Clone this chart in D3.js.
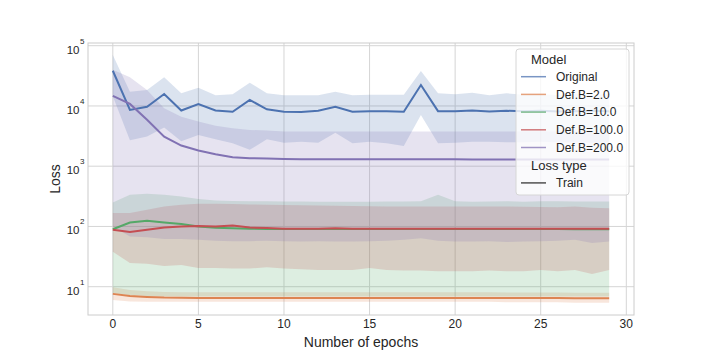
<!DOCTYPE html>
<html>
<head>
<meta charset="utf-8">
<script src="https://cdn.jsdelivr.net/npm/d3@7"></script>
<style>
  body { margin: 0; background: #fff; }
  svg { display: block; font-family: "Liberation Sans", Arial, sans-serif; }
</style>
</head>
<body>
<div id="chart"></div>
<script>
'use strict';

// data
var epochs = [0,1,2,3,4,5,6,7,8,9,10,11,12,13,14,15,16,17,18,19,20,21,22,23,24,25,26,27,28,29];
var xTicks = [0,5,10,15,20,25,30];
var yTicks = [1e1,1e2,1e3,1e4,1e5];
var yTickExp = ["1","2","3","4","5"];
var models = ["Original","Def.B=2.0","Def.B=10.0","Def.B=100.0","Def.B=200.0"];
var colors = ["#4c72b0","#dd8452","#55a868","#c44e52","#8172b3"];

var origMean = [38400,8600,9700,15800,8400,10700,8400,8000,12600,8800,8000,7900,8300,9700,8000,8200,8200,8000,22300,8200,8200,8400,8100,8300,8200,8300,8100,8200,8300,8200];
var origHi = [70000,17200,18400,30000,16200,20000,15100,15600,24300,16200,15100,15100,15100,17200,15100,15400,15400,15400,38000,16200,15600,16600,15100,16200,15400,15600,15200,15800,15400,15600];
var origLo = [14500,2700,3100,4400,2600,3300,2800,2400,1870,2800,2460,2550,2460,3600,2400,2550,2400,2170,7100,2400,2460,2550,2550,2500,2500,2550,2500,2500,2450,2500];

var b2Mean = [7.6,7.0,6.75,6.6,6.55,6.5,6.5,6.5,6.5,6.5,6.5,6.5,6.5,6.5,6.5,6.5,6.5,6.5,6.5,6.5,6.5,6.5,6.5,6.5,6.5,6.5,6.5,6.45,6.45,6.45];
var b2Hi = [9.8,8.8,8.4,8.2,8.1,8.1,8.1,8.1,8.1,8.1,8.1,8.1,8.1,8.1,8.1,8.1,8.1,8.1,8.1,8.1,8.1,8.1,8.1,8.0,8.0,8.0,8.0,7.9,7.9,7.9];
var b2Lo = [6.0,5.7,5.6,5.6,5.6,5.6,5.6,5.6,5.6,5.6,5.6,5.6,5.6,5.6,5.6,5.6,5.6,5.6,5.6,5.6,5.6,5.6,5.6,5.5,5.5,5.5,5.5,5.4,5.4,5.4];

var b10Mean = [90,116,124,116,110,100,95,93,92,91,91,91,91,91,91,91,91,91,91,91,91,91,91,91,91,91,91,90,90,90];
var b10Hi = [250,335,350,335,315,285,270,265,262,262,260,260,258,258,258,258,260,260,262,335,262,258,260,262,258,262,262,260,260,260];
var b10Lo = [7.8,7.2,7.0,6.9,6.9,6.9,6.9,6.9,6.9,6.9,6.9,6.9,6.9,6.9,6.9,6.9,6.9,6.9,6.9,6.9,6.9,6.9,6.9,6.9,6.9,6.9,6.9,6.9,6.9,6.9];

var b100Mean = [88,81,88,96,100,102,100,104,96,94,92,92,92,93,92,92,92,92,92,92,92,92,92,92,92,92,92,92,92,92];
var b100Hi = [167,167,189,214,229,238,238,235,232,230,228,225,222,220,218,216,215,214,214,214,214,214,214,214,212,210,208,214,205,200];
var b100Lo = [38,24.7,24,22,23,20.5,20.5,20,20,21,20,19.5,19,19,19,20.4,19,18.5,18.5,18,18,18,18.5,18,18,19,18,19,16.3,19];

var b200Mean = [14700,10800,5900,3100,2200,1820,1580,1410,1360,1340,1320,1310,1310,1300,1300,1300,1300,1300,1300,1300,1300,1290,1290,1290,1290,1290,1290,1290,1290,1290];
var b200Hi = [40000,30000,18400,9200,6600,5500,4700,4260,4000,3900,3750,3750,3750,3750,3750,3750,3750,3750,3750,3750,3750,3750,3750,3750,3750,3750,3750,3750,3750,3750];
var b200Lo = [100,68,66,62,62,60,58,57,57,58,57,56,57,56,56,57,58,60,64,58,56,56,57,55,56,57,58,60,53,56];

var means = [origMean,b2Mean,b10Mean,b100Mean,b200Mean];
var his = [origHi,b2Hi,b10Hi,b100Hi,b200Hi];
var los = [origLo,b2Lo,b10Lo,b100Lo,b200Lo];

var W = 706, H = 354;
var pLeft = 88, pRight = 634, pTop = 43, pBottom = 315;

var svg = d3.select('#chart').append('svg')
    .attr('width', W)
    .attr('height', H);

svg.append('rect').attr('width', W).attr('height', H).attr('fill', '#fff');

var x = d3.scaleLinear().domain([-1.45, 30.45]).range([pLeft, pRight]);
var y = d3.scaleLog().domain([3.39, 110900]).range([pBottom, pTop]);

// grid
var grid = svg.append('g');
grid.selectAll('.vg').data(xTicks).enter().append('line')
    .attr('x1', function(d){ return x(d); }).attr('x2', function(d){ return x(d); })
    .attr('y1', pTop).attr('y2', pBottom)
    .attr('stroke', '#d5d5d5').attr('stroke-width', 1);
grid.selectAll('.hg').data(yTicks).enter().append('line')
    .attr('x1', pLeft).attr('x2', pRight)
    .attr('y1', function(d){ return y(d); }).attr('y2', function(d){ return y(d); })
    .attr('stroke', '#d5d5d5').attr('stroke-width', 1);

var line = d3.line()
    .x(function(d, i){ return x(epochs[i]); })
    .y(function(d){ return y(d); });

var area = d3.area()
    .x(function(d){ return x(d[0]); })
    .y0(function(d){ return y(d[1]); })
    .y1(function(d){ return y(d[2]); });

// bands sit below the lines (matplotlib zorder)
var bands = svg.append('g');
var lines = svg.append('g');
models.forEach(function(m, k){
    var bandData = epochs.map(function(e, i){ return [e, los[k][i], his[k][i]]; });
    bands.append('path')
        .attr('d', area(bandData))
        .attr('fill', colors[k])
        .attr('fill-opacity', 0.2)
        .attr('stroke', 'none');
    lines.append('path')
        .attr('d', line(means[k]))
        .attr('fill', 'none')
        .attr('stroke', colors[k])
        .attr('stroke-width', 2);
});

// spines
svg.append('rect')
    .attr('x', pLeft).attr('y', pTop)
    .attr('width', pRight - pLeft).attr('height', pBottom - pTop)
    .attr('fill', 'none').attr('stroke', '#cccccc').attr('stroke-width', 1);

// x tick labels
svg.selectAll('.xt').data(xTicks).enter().append('text')
    .attr('x', function(d){ return x(d); })
    .attr('y', pBottom + 13)
    .attr('text-anchor', 'middle')
    .attr('font-size', '12px')
    .attr('fill', '#262626')
    .text(function(d){ return d; });

// y tick labels, 10 with superscript
var yt = svg.selectAll('.yt').data(yTicks).enter().append('g');
yt.append('text')
    .attr('x', pLeft - 8.5)
    .attr('y', function(d){ return y(d) + 8; })
    .attr('text-anchor', 'end')
    .attr('font-size', '11.5px')
    .attr('fill', '#262626')
    .text('10');
yt.append('text')
    .attr('x', pLeft - 8)
    .attr('y', function(d){ return y(d) - 2; })
    .attr('font-size', '8px')
    .attr('fill', '#262626')
    .text(function(d, i){ return yTickExp[i]; });

// axis labels
svg.append('text')
    .attr('x', (pLeft + pRight) / 2)
    .attr('y', 347)
    .attr('text-anchor', 'middle')
    .attr('font-size', '14px')
    .attr('fill', '#262626')
    .text('Number of epochs');
svg.append('text')
    .attr('transform', 'translate(60,' + ((pTop + pBottom) / 2) + ') rotate(-90)')
    .attr('text-anchor', 'middle')
    .attr('font-size', '14px')
    .attr('fill', '#262626')
    .text('Loss');

// legend
var lg = svg.append('g').attr('transform', 'translate(516,49)');
lg.append('rect')
    .attr('width', 113).attr('height', 146).attr('rx', 3)
    .attr('fill', '#fff').attr('fill-opacity', 0.8)
    .attr('stroke', '#d6d6d6').attr('stroke-width', 1);
var rowH = 17.7;
lg.append('text').attr('x', 15).attr('y', 14.5)
    .attr('font-size', '13px').attr('fill', '#262626').text('Model');
var entries = lg.selectAll('.le').data(models).enter().append('g')
    .attr('transform', function(d, i){ return 'translate(0,' + (27.7 + i * rowH) + ')'; });
entries.append('line')
    .attr('x1', 5).attr('x2', 30).attr('y1', 0).attr('y2', 0)
    .attr('stroke', function(d, i){ return colors[i]; })
    .attr('stroke-opacity', 0.75)
    .attr('stroke-width', 1.5);
entries.append('text')
    .attr('x', 40).attr('y', 4.3)
    .attr('font-size', '12px').attr('fill', '#262626')
    .text(function(d){ return d; });
lg.append('text').attr('x', 15).attr('y', 27.7 + 5 * rowH + 4.5)
    .attr('font-size', '13px').attr('fill', '#262626').text('Loss type');
var tr = lg.append('g').attr('transform', 'translate(0,' + (27.7 + 6 * rowH) + ')');
tr.append('line').attr('x1', 5).attr('x2', 30)
    .attr('stroke', '#333333').attr('stroke-opacity', 0.85).attr('stroke-width', 1.5);
tr.append('text').attr('x', 40).attr('y', 4.3)
    .attr('font-size', '12px').attr('fill', '#262626').text('Train');
</script>
</body>
</html>
